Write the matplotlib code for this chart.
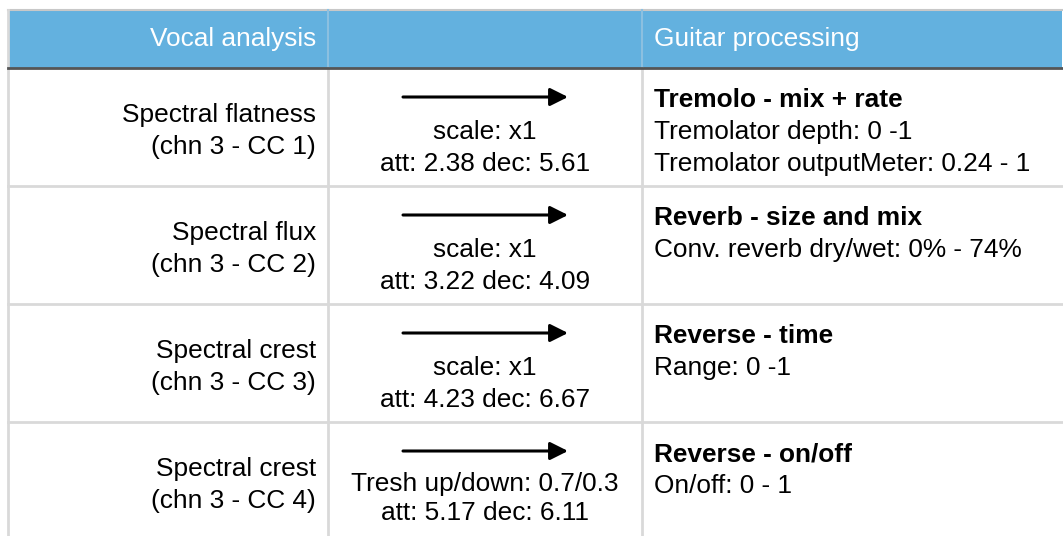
import matplotlib
matplotlib.use("Agg")
import matplotlib.pyplot as plt
from matplotlib.patches import Rectangle, FancyArrowPatch

plt.rcParams['font.family'] = ['Liberation Sans', 'DejaVu Sans']

# ---- data ----
header_left = "Vocal analysis"
header_right = "Guitar processing"
features = ["Spectral flatness", "Spectral flux", "Spectral crest", "Spectral crest"]
channels = ["(chn 3 - CC 1)", "(chn 3 - CC 2)", "(chn 3 - CC 3)", "(chn 3 - CC 4)"]
mappings = ["scale: x1", "scale: x1", "scale: x1", "Tresh up/down: 0.7/0.3"]
att_values = ["2.38", "3.22", "4.23", "5.17"]
dec_values = ["5.61", "4.09", "6.67", "6.11"]
guitar_titles = ["Tremolo - mix + rate", "Reverb - size and mix",
                 "Reverse - time", "Reverse - on/off"]
guitar_params = [
    ["Tremolator depth: 0 -1", "Tremolator outputMeter: 0.24 - 1"],
    ["Conv. reverb dry/wet: 0% - 74%"],
    ["Range: 0 -1"],
    ["On/off: 0 - 1"],
]

W, H = 1063, 536
fig = plt.figure(figsize=(W / 100, H / 100), dpi=100)
ax = fig.add_axes([0, 0, 1, 1])
ax.set_xlim(0, W)
ax.set_ylim(H, 0)
ax.axis('off')

# layout
x_left, x_c1, x_c2, x_right = 8, 328, 642, 1062
y_top, y_head = 10, 68
row_h = 118
fs = 18.9
grid_col = '#d9d9d9'
header_col = '#63b1df'

# header
ax.add_patch(Rectangle((x_left, y_top), x_right - x_left, y_head - y_top,
                       facecolor=header_col, edgecolor='none', zorder=1))
ax.plot([x_left, x_right], [y_top, y_top], color='#c8c8c8', lw=1.5, zorder=2)
ax.plot([x_left, x_right], [y_head, y_head], color='#555555', lw=2, zorder=3)
ax.text(316, 39, header_left, color='white', ha='right', va='center', fontsize=fs)
ax.text(654, 39, header_right, color='white', ha='left', va='center', fontsize=fs)

# vertical grid lines
ax.plot([x_left, x_left], [y_top, H], color=grid_col, lw=2, zorder=2)
for x in (x_c1, x_c2):
    ax.plot([x, x], [y_head, H], color=grid_col, lw=2, zorder=2)
    ax.plot([x, x], [y_top, y_head], color='#8cc0e0', lw=1.5, zorder=2)

line_sp = 32
for i in range(len(features)):
    top = y_head + i * row_h
    if i > 0:
        ax.plot([x_left, x_right], [top, top], color=grid_col, lw=2, zorder=2)
    mid = top + row_h / 2 + 4
    ax.text(316, mid - line_sp / 2, features[i], ha='right', va='center', fontsize=fs)
    ax.text(316, mid + line_sp / 2, channels[i], ha='right', va='center', fontsize=fs)
    # arrow
    ay = top + 29
    ax.add_patch(FancyArrowPatch((403, ay), (568, ay), arrowstyle='-|>',
                                 mutation_scale=27, lw=2.2, color='black',
                                 shrinkA=0, shrinkB=0))
    xc = (x_c1 + x_c2) / 2
    if i < 3:
        y1, y2 = top + 64, top + 96
    else:
        y1, y2 = top + 62, top + 91
    ax.text(xc, y1, mappings[i], ha='center', va='center', fontsize=fs)
    ax.text(xc, y2, f"att: {att_values[i]} dec: {dec_values[i]}",
            ha='center', va='center', fontsize=fs)
    # right column
    ax.text(654, top + 32, guitar_titles[i], ha='left', va='center',
            fontsize=fs, fontweight='bold')
    for j, p in enumerate(guitar_params[i]):
        ax.text(654, top + 32 + (j + 1) * line_sp, p, ha='left', va='center', fontsize=fs)

fig.savefig('out.png', dpi=100)
